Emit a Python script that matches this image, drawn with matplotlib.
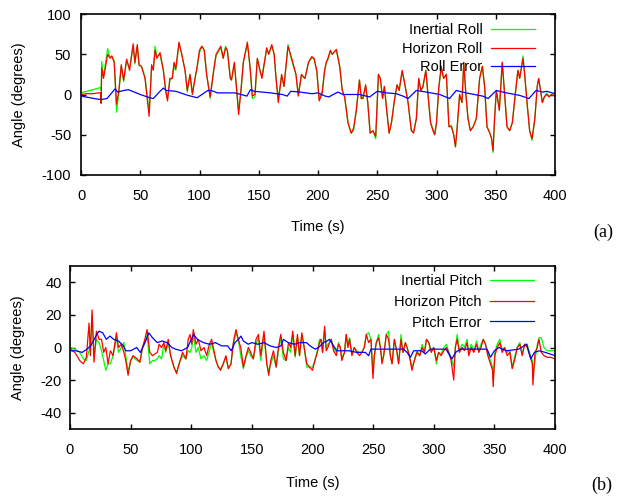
import numpy as np
import matplotlib as mpl
mpl.use('Agg')
import matplotlib.pyplot as plt

plt.rcParams['font.family'] = 'Liberation Sans'
plt.rcParams['font.size'] = 10.5
plt.rcParams['axes.unicode_minus'] = False

#%% roll data (deg) vs time (s)
roll_t = [0, 5, 10, 15, 16.5, 17, 17.5, 19, 22.5, 24.5,
          26, 28, 30, 32, 34, 36, 38.5, 41, 44, 45.5,
          47.5, 49, 51, 54, 57.5, 59.6, 61, 62.5, 64, 66.7,
          69.5, 71.5, 73, 75, 77, 78.5, 80, 82.7, 85, 87.8,
          89.7, 92, 94, 96, 98, 100, 102, 104, 106, 109,
          112, 114, 118, 120, 122, 123.5, 126, 127, 129.4, 131.4,
          133, 135, 137, 140.4, 142.6, 144.6, 146.8, 148.8, 151, 152.7,
          156.7, 158.4, 161, 163, 164.6, 166.5, 169.3, 171.3, 174.7, 177.8,
          181.4, 183.4, 186, 189, 192, 194.7, 196.6, 199, 201, 203.6,
          205.6, 207, 208.4, 210.4, 212, 215.5, 218.3, 220.5, 222.5, 225.3,
          228, 230, 232.3, 235, 236.5, 238, 240.2, 242, 244, 246.4,
          248.7, 251, 252.6, 254.5, 256, 258, 260, 262, 264.7, 266.7,
          268.5, 271, 273, 276, 278.8, 280.7, 283, 285, 286.8, 288.5,
          291, 292.8, 295, 297, 298.5, 300, 302, 304, 306, 308.3,
          310.5, 312.5, 314.5, 316, 317.5, 319.5, 321.5, 323, 324.8, 326.6,
          328.6, 331, 333.6, 336.4, 338.7, 340.6, 342.6, 345, 346.5, 347.7,
          349, 350.5, 353, 355.5, 357.5, 359.5, 361.7, 364, 366.8, 368.7,
          370.2, 373, 374.4, 376.4, 378.6, 380.6, 383, 385, 386.2, 387.8,
          389.3, 391, 393, 395, 397, 400]

inertial_roll = [2, 4, 6, 8, 9, 5, 41, 22, 57, 46,
                 47, 42, -22, 4, 35, 16, 42, 33, 60, 38,
                 60, 36, 35, 22, -22, 33, 32, 60, 47, 50,
                 30, 3, -5, 18, 20, 34, 30, 63, 50, 30,
                 3, 25, 2, 18, 33, 52, 60, 55, 25, -5,
                 30, 48, 58, 45, 60, 55, 20, 18, 38, 5,
                 -20, 5, 40, 63, 35, -5, -3, 44, 30, 22,
                 56, 50, 60, 50, 20, -5, 23, 10, 62, 42,
                 25, 0, 23, 20, 40, 45, 45, 28, -5, 5,
                 30, 40, 43, 53, 50, 55, 35, 5, -3, -35,
                 -48, -45, -20, 18, -5, -3, 10, -10, -48, -45,
                 -55, 25, 20, -5, 10, -20, -48, -35, -5, 12,
                 5, 28, 15, -10, -45, -46, -30, 20, 5, 8,
                 30, 0, -35, -42, -50, -35, 8, 33, 20, 25,
                 -40, -38, -50, -65, -40, 0, -10, 40, 0, -30,
                 -45, -40, -30, 20, 35, 10, -40, -48, -55, -72,
                 -30, 5, -18, 40, 0, -40, -45, -35, 5, 30,
                 20, 48, 25, -10, -45, -57, -30, 10, 20, 5,
                 -10, -3, 2, -2, 0, -2]

horizon_roll = [0, 1, 1, 2, 2, -11, 33, 20, 50, 45,
                48, 40, -12, 5, 37, 18, 44, 30, 63, 40,
                62, 37, 35, 20, -27, 37, 30, 55, 45, 52,
                30, 5, -8, 20, 20, 40, 32, 65, 50, 30,
                5, 25, 0, 18, 35, 55, 60, 55, 25, -3,
                30, 50, 60, 45, 58, 55, 20, 18, 40, 5,
                -25, 5, 40, 65, 35, -2, 0, 45, 30, 20,
                58, 50, 62, 50, 20, -10, 25, 10, 60, 45,
                25, -2, 25, 20, 40, 47, 45, 30, -8, 2,
                30, 40, 45, 55, 50, 56, 35, 5, -3, -35,
                -48, -42, -20, 18, -5, -5, 12, -10, -48, -45,
                -52, 25, 20, -5, 10, -20, -48, -35, -5, 12,
                5, 30, 15, -10, -45, -48, -30, 20, 5, 10,
                30, 0, -35, -45, -50, -35, 10, 35, 20, 25,
                -40, -40, -50, -65, -40, 0, -10, 40, 0, -30,
                -45, -40, -30, 20, 35, 10, -40, -48, -55, -70,
                -30, 5, -20, 40, 0, -40, -45, -35, 5, 30,
                20, 45, 25, -10, -45, -55, -30, 10, 20, 5,
                -10, -3, 0, -3, 0, -2]

roll_err_t = [0, 15, 18, 22, 28.7, 31, 36, 40, 45, 50,
              58, 61, 66, 69.5, 72, 80, 90, 98, 102, 107,
              110, 115, 130, 140, 143, 146, 160, 170, 174, 177,
              185, 195, 200, 206, 209.3, 212.7, 217, 221, 235, 243.6,
              250, 257.7, 266, 271.7, 276, 283, 291.4, 302.7, 311, 316.7,
              325, 339, 343.5, 350.5, 359, 370, 378, 384, 390, 393,
              400]
roll_error = [-2, -6, -6, -5, 7, 3, 5, 6, 3, 0,
              -4, -5, 3, 8, 5, 4, -1, -4, 0, 5,
              5, 2, 2, -2, 6, 4, 2, 0, -2, 4,
              3, 1, 2, -2, -3, 0, 3, 0, 0, -3,
              4, 2, 1, -2, -5, 5, 3, 0, -5, 5,
              2, -2, -5, 5, 2, -1, -5, 5, 3, 4,
              1]

#%% pitch data (deg) vs time (s)
pitch_t = [0, 4, 8, 11, 13.5, 15.7, 16.8, 18.2, 19.8, 21.8,
           24, 26, 27.8, 29.5, 31.4, 33.3, 35.5, 38.3, 40, 42.4,
           44.4, 46, 47.9, 50, 52, 55.4, 57.6, 59.8, 61.7, 63.6,
           65.8, 68, 70, 72, 73.5, 75.5, 77.4, 79, 81, 83,
           85.7, 87.9, 90, 92.8, 95.6, 97.5, 99, 100.5, 101.7, 103.9,
           105.8, 108, 110.5, 112.7, 114.9, 116.8, 118.2, 120.4, 122.3, 124.2,
           126.4, 128.6, 130.6, 132.8, 134.7, 136.9, 138.8, 140.8, 143, 145.2,
           147.1, 149, 151.2, 153.4, 155.4, 157.3, 160, 162.3, 163.9, 165.6,
           167.8, 170, 171.9, 173.8, 176, 178.2, 180.2, 182, 183.7, 185.7,
           187.6, 189.3, 191.2, 193.1, 195.3, 197.5, 200, 202, 204, 205.8,
           207, 208.3, 210, 211.3, 212.7, 214, 215.4, 217.4, 219.6, 221.5,
           222.9, 224.2, 226.4, 227.8, 229.2, 230.6, 232.5, 234.4, 236.6, 238.8,
           240.7, 242.7, 244.4, 246.3, 248.2, 249.9, 251, 252.6, 254.5, 256,
           257.3, 258.7, 260.9, 262.8, 264.2, 265.6, 267.5, 269.7, 271, 273,
           274.6, 276.6, 278, 279.9, 282, 284, 286.2, 288.4, 290.4, 292.3,
           294, 295.9, 297.9, 300, 302.2, 304, 306, 308.3, 310.5, 312.4,
           314.3, 316.5, 317.8, 319.3, 321.2, 323.4, 325.3, 327.5, 328.9, 330.9,
           333.1, 335.3, 337.2, 339, 340.8, 342.7, 344.6, 346.8, 348.5, 349,
           350.4, 352.3, 354.5, 356.5, 358.4, 360.6, 362.8, 364.7, 366.6, 368.9,
           371, 372.9, 375, 377.1, 379.3, 381.3, 381.8, 383.5, 385.4, 386.8,
           388.7, 390.9, 393.6, 396.4, 400]

inertial_pitch = [0, -1, -3, -7, -8, -2, 2, 20, -5, 5,
                  3, -2, -8, -14, -10, -10, -5, 6, -3, 0,
                  3, -5, -15, -8, -6, -8, -9, 0, 3, 8,
                  -10, -8, -8, -7, -5, -7, 2, -3, 3, -5,
                  -12, -15, -10, -5, -7, -2, -3, 0, 8, -3,
                  0, -7, -5, -8, -2, 3, -2, -8, -12, -13,
                  -10, -6, -13, -10, 2, 9, 5, -5, -13, -6,
                  -2, -5, -7, 2, 6, -8, 8, -10, -15, -10,
                  -5, -12, -2, 6, -7, -8, 0, -3, 8, -6,
                  6, -5, 8, 0, -12, -12, -12, -8, -2, 5,
                  5, -3, 11, 0, 2, 3, 5, 0, -3, 3,
                  0, -6, -3, 8, 2, 6, -4, 0, -2, -3,
                  -3, 0, 8, 9, 5, -15, -5, 3, 8, 0,
                  -8, -5, 8, 10, -5, -10, 5, -3, -10, 8,
                  -3, 3, 0, -5, -12, -8, -2, -5, 2, -3,
                  5, 3, -2, 0, -10, -3, -4, 0, 2, -3,
                  -6, -12, 0, 8, -2, 2, 0, 5, -3, 2,
                  -2, 4, -2, 2, 5, 2, -4, -8, -12, -20,
                  -3, 2, 5, -2, 0, -3, -2, -12, -6, 0,
                  3, -4, 2, 2, -4, -8, -18, -8, 2, 6,
                  6, 0, -2, -2, -2]

horizon_pitch = [-1, -3, -8, -10, -6, 15, -5, 23, -9, 10,
                 5, 5, -3, 0, -10, -2, -5, 9, 0, 2,
                 -3, -8, -17, -8, -5, -7, -9, 0, 5, 11,
                 -3, -5, -4, -3, 2, 0, 3, -2, 5, -5,
                 -12, -16, -10, -3, -7, 5, 8, 2, 11, 2,
                 5, -2, 0, -5, 2, 5, 0, -8, -12, -14,
                 -10, -5, -13, -10, 3, 11, 5, 0, -12, -5,
                 0, -3, -7, 5, 8, -5, 10, -10, -17, -8,
                 -2, -12, 0, 8, -3, -8, 3, 0, 10, -5,
                 8, -5, 9, 0, -10, -12, -14, -8, -3, 3,
                 5, -3, 13, -2, 0, 3, 5, -2, -5, 2,
                 0, -8, -3, 8, 0, 5, -5, 0, -3, -5,
                 -3, 0, 8, 3, 5, -19, -5, 3, 6, 0,
                 -10, -5, 8, 5, -5, -10, 5, -3, -10, 5,
                 -3, 3, 0, -5, -14, -8, -3, -5, 0, -3,
                 5, 3, -3, 0, -8, -3, -5, -2, 0, -3,
                 -8, -20, 0, 5, -3, 0, -2, 3, -5, 0,
                 -3, 2, -3, 0, 5, 2, -5, -10, -14, -24,
                 -5, 0, 3, -3, 0, -5, -3, -13, -8, 0,
                 2, -5, 2, 0, -5, -10, -23, -3, 0, 5,
                 -3, -5, -6, -6, -7]

pitch_err_t = [0, 5, 10, 14, 17, 20, 22, 24, 27, 30,
               33, 36, 40, 44, 46, 50, 55, 58, 60, 63,
               65, 68, 72, 76, 80, 84, 87, 92, 97, 100,
               102, 105, 110, 115, 120, 125, 130, 133, 136, 139,
               141, 143, 147, 150, 155, 160, 165, 170, 174, 176,
               180, 185, 190, 195, 198, 202.2, 205, 209, 212, 214,
               217.4, 220, 230, 236.6, 243.5, 246.3, 248.2, 253, 260, 269.7,
               275, 278, 280.7, 283.5, 290, 293, 297.2, 305, 310, 315,
               318, 322, 330, 344, 346.8, 350, 353.7, 360, 370, 376.6,
               380, 383, 387, 392, 396, 400]
pitch_error = [-2, -2, -3, -1, 1, 5, 8, 10, 9, 5,
               7, 5, 4, 1, -2, -2, 0, -3, 0, 5,
               9, 6, 3, 4, 3, 0, -1, -2, 0, 5,
               8, 5, 3, 2, 3, 1, 1, -2, 3, 5,
               7, 4, 2, 3, 2, 3, 1, 0, 1, 5,
               3, 2, 3, 3, 1, -1, 0, 3, 4, 5,
               1, -2, -2, -3, -3, -5, -1, -1, -1, -1,
               -1, -3, -6, -2, -2, -4, -1, -1, -1, -7,
               -3, -1, -1, -1, -6, -2, 0, -2, -1, 2,
               -7, -3, -2, -3, -4, -5]

time_ticks = [0, 50, 100, 150, 200, 250, 300, 350, 400]
roll_ticks = [-100, -50, 0, 50, 100]
pitch_ticks = [-40, -20, 0, 20, 40]

#%% figure with two stacked panels
fig = plt.figure(figsize=(6.21, 4.99), dpi=100)
ax1 = fig.add_axes([81 / 621, 1 - 175 / 499, 474 / 621, 161 / 499])
ax2 = fig.add_axes([70 / 621, 1 - 429 / 499, 485 / 621, 163 / 499])


def setup_axes(ax, ylim, yticks, ypad, xlab_y, ylab_x):
    ax.set_xlim(0, 400)
    ax.set_ylim(*ylim)
    ax.set_xticks(time_ticks)
    ax.set_yticks(yticks)
    ax.tick_params(direction='in', top=True, right=True, length=3.5, width=1)
    ax.tick_params(axis='x', pad=10)
    ax.tick_params(axis='y', pad=ypad)
    for s in ax.spines.values():
        s.set_linewidth(1.2)
    ax.set_xlabel('Time (s)', va='center')
    ax.set_ylabel('Angle (degrees)', va='center')
    ax.xaxis.set_label_coords(0.5, xlab_y)
    ax.yaxis.set_label_coords(ylab_x, 0.5)


# roll panel
ax1.plot(roll_t, inertial_roll, color='#00ff00', lw=0.9, label='Inertial Roll')
ax1.plot(roll_t, horizon_roll, color='#ff0000', lw=0.9, label='Horizon Roll')
ax1.plot(roll_err_t, roll_error, color='#0000ff', lw=0.9, label='Roll Error')
setup_axes(ax1, (-100, 100), roll_ticks, 7, -0.325, -0.13)
ax1.legend(loc='upper right', bbox_to_anchor=(0.958, 0.945), frameon=False,
           markerfirst=False, handlelength=3.0, handletextpad=0.6,
           labelspacing=0.33, borderpad=0, borderaxespad=0)

# pitch panel
ax2.plot(pitch_t, inertial_pitch, color='#00ff00', lw=0.9, label='Inertial Pitch')
ax2.plot(pitch_t, horizon_pitch, color='#ff0000', lw=0.9, label='Horizon Pitch')
ax2.plot(pitch_err_t, pitch_error, color='#0000ff', lw=0.9, label='Pitch Error')
setup_axes(ax2, (-50, 50), pitch_ticks, 6, -0.33, -0.108)
ax2.legend(loc='upper right', bbox_to_anchor=(0.957, 0.95), frameon=False,
           markerfirst=False, handlelength=3.0, handletextpad=0.6,
           labelspacing=0.46, borderpad=0, borderaxespad=0)

fig.text(603 / 621, 1 - 232 / 499, '(a)', family='Liberation Serif', fontsize=13,
         ha='center', va='center')
fig.text(602 / 621, 1 - 485 / 499, '(b)', family='Liberation Serif', fontsize=13,
         ha='center', va='center')

fig.savefig('out.png', dpi=100)
